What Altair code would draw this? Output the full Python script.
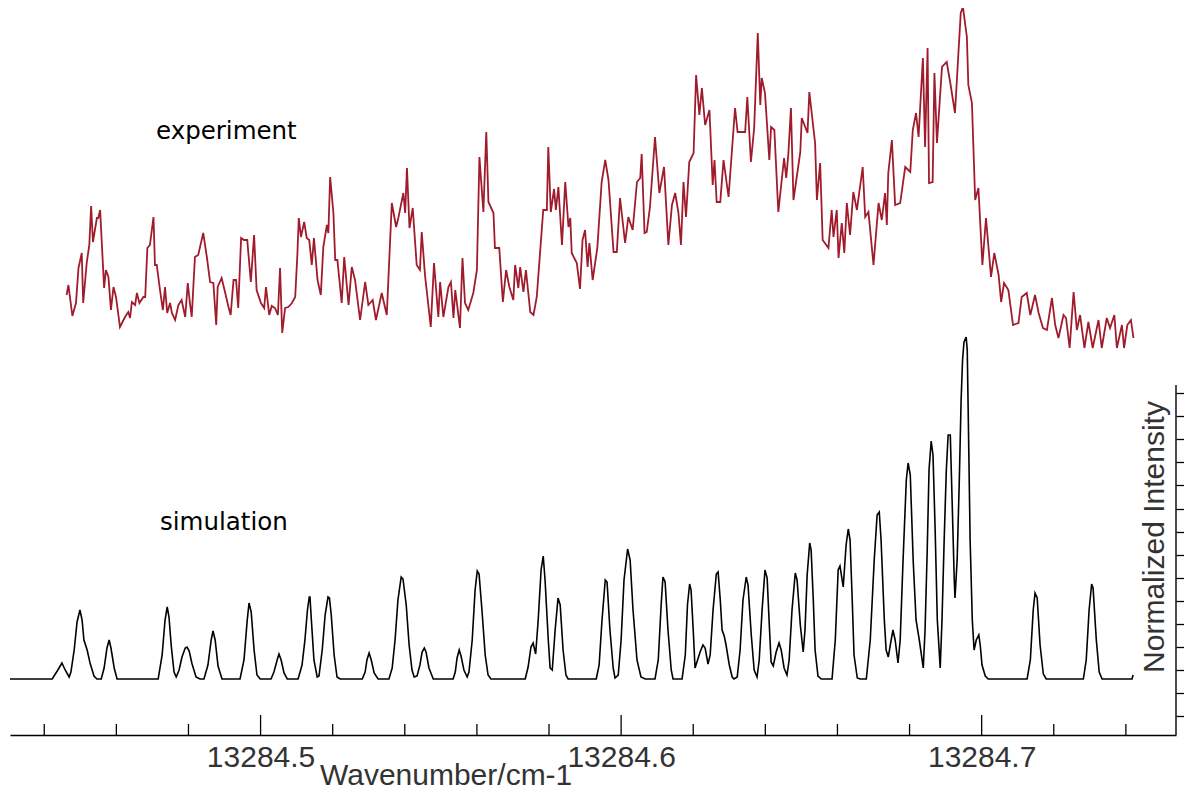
import altair as alt
import pandas as pd

NU_BASE = 13284.0

# ---- simulated spectrum (wavenumber fraction above 13284, intensity) ----
SIM_NU = [
    0.4305, 0.4422, 0.4436, 0.4449, 0.4458, 0.4469, 0.4474, 0.4483, 0.4491, 0.4499, 0.4505, 0.4510, 0.4519, 0.4527, 0.4538, 0.4546, 0.4558, 0.4566, 0.4574, 0.4580, 0.4585, 0.4594, 0.4602,
    0.4716, 0.4727, 0.4735, 0.4741, 0.4746, 0.4752, 0.4760, 0.4766, 0.4774, 0.4782, 0.4791, 0.4796, 0.4802, 0.4810, 0.4821, 0.4832, 0.4843, 0.4854, 0.4863, 0.4868, 0.4874, 0.4882, 0.4893,
    0.4943, 0.4954, 0.4963, 0.4968, 0.4974, 0.4982, 0.4990, 0.4999, 0.5029, 0.5037, 0.5046, 0.5051, 0.5057, 0.5065, 0.5074,
    0.5104, 0.5115, 0.5123, 0.5130, 0.5135, 0.5137, 0.5140, 0.5148, 0.5157, 0.5162, 0.5171, 0.5179, 0.5187, 0.5191, 0.5196, 0.5204, 0.5212, 0.5221,
    0.5282, 0.5290, 0.5295, 0.5301, 0.5307, 0.5315, 0.5326,
    0.5356, 0.5365, 0.5373, 0.5381, 0.5390, 0.5395, 0.5404, 0.5412, 0.5420, 0.5426, 0.5434, 0.5442, 0.5448, 0.5454, 0.5459, 0.5467, 0.5479,
    0.5534, 0.5540, 0.5545, 0.5551, 0.5556, 0.5564, 0.5573, 0.5578, 0.5587, 0.5595, 0.5601, 0.5606, 0.5614, 0.5623, 0.5631, 0.5639,
    0.5734, 0.5742, 0.5750, 0.5756, 0.5763, 0.5770, 0.5778, 0.5784, 0.5789, 0.5798, 0.5803, 0.5809, 0.5817, 0.5825, 0.5831, 0.5839, 0.5847, 0.5853,
    0.5931, 0.5939, 0.5947, 0.5956, 0.5961, 0.5969, 0.5978, 0.5983, 0.5992, 0.6000, 0.6008, 0.6018, 0.6025, 0.6033, 0.6044, 0.6055, 0.6067,
    0.6094, 0.6103, 0.6111, 0.6116, 0.6122, 0.6130, 0.6139, 0.6144,
    0.6169, 0.6178, 0.6184, 0.6190, 0.6194, 0.6200, 0.6205, 0.6219, 0.6227, 0.6233, 0.6241, 0.6247, 0.6255, 0.6264, 0.6269, 0.6275, 0.6280, 0.6286, 0.6291, 0.6300, 0.6308, 0.6313,
    0.6322, 0.6330, 0.6338, 0.6347, 0.6352, 0.6361, 0.6369, 0.6377, 0.6383, 0.6391, 0.6399, 0.6405, 0.6411, 0.6416, 0.6422, 0.6430, 0.6438, 0.6444, 0.6452, 0.6460,
    0.6466, 0.6474, 0.6483, 0.6488, 0.6497, 0.6505, 0.6510, 0.6516, 0.6523, 0.6527, 0.6533, 0.6538, 0.6546, 0.6555,
    0.6585, 0.6594, 0.6602, 0.6607, 0.6616, 0.6624, 0.6630, 0.6635, 0.6641, 0.6646, 0.6655, 0.6663,
    0.6680, 0.6691, 0.6702, 0.6710, 0.6716, 0.6721, 0.6730, 0.6735, 0.6741, 0.6749, 0.6754, 0.6760, 0.6768, 0.6774, 0.6782, 0.6791, 0.6796, 0.6802, 0.6810, 0.6818, 0.6827, 0.6838,
    0.6843, 0.6849, 0.6854, 0.6860, 0.6865, 0.6871, 0.6877, 0.6885,
    0.6890, 0.6896, 0.6902, 0.6907, 0.6913, 0.6918, 0.6924, 0.6926, 0.6932, 0.6938, 0.6943, 0.6947, 0.6951, 0.6957, 0.6960, 0.6963, 0.6968, 0.6974, 0.6979, 0.6985, 0.6992, 0.6996, 0.7001, 0.7010, 0.7018,
    0.7126, 0.7135, 0.7143, 0.7148, 0.7154, 0.7162, 0.7171, 0.7179,
    0.7282, 0.7290, 0.7298, 0.7305, 0.7309, 0.7318, 0.7326, 0.7334,
    0.7417, 0.7420,
]
SIM_INT = [
    0, 0, 8, 16, 9, 2, 7, 29, 57, 69, 59, 39, 29, 16, 3, 0, 0, 11, 31, 39, 31, 11, 0,
    0, 24, 59, 72, 62, 34, 7, 2, 9, 22, 31, 32, 28, 15, 2, 0, 0, 14, 39, 48, 39, 13, 0,
    0, 19, 59, 76, 67, 29, 4, 0, 0, 7, 19, 25, 19, 6, 0,
    0, 14, 39, 69, 82, 82, 64, 19, 2, 3, 29, 64, 82, 81, 64, 24, 2, 0,
    0, 7, 19, 26, 19, 6, 0,
    0, 11, 39, 79, 102, 100, 74, 34, 9, 2, 3, 14, 27, 31, 27, 11, 0,
    0, 7, 21, 29, 23, 9, 2, 7, 39, 89, 108, 105, 69, 24, 4, 0,
    0, 12, 32, 36, 25, 59, 109, 123, 99, 39, 11, 9, 49, 81, 74, 29, 4, 0,
    0, 14, 59, 99, 97, 49, 11, 1, 4, 39, 99, 130, 119, 69, 19, 2, 0,
    0, 19, 74, 102, 97, 49, 9, 0,
    0, 24, 74, 95, 89, 49, 11, 27, 34, 31, 15, 24, 69, 105, 107, 79, 49, 43, 34, 14, 2, 0,
    2, 29, 79, 102, 94, 44, 9, 2, 19, 69, 109, 101, 54, 17, 13, 27, 36, 29, 11, 4,
    19, 69, 106, 99, 54, 27, 49, 104, 136, 129, 79, 29, 3, 0,
    0, 39, 109, 113, 92, 134, 150, 139, 79, 24, 1, 0,
    0, 39, 119, 164, 167, 139, 59, 29, 22, 39, 49, 39, 16, 39, 119, 199, 216, 204, 119, 59, 39, 11,
    49, 129, 209, 238, 224, 149, 59, 11,
    59, 139, 209, 244, 244, 179, 99, 81, 119, 199, 279, 319, 337, 342, 329, 259, 139, 59, 29, 39, 44, 34, 14, 3, 0,
    0, 19, 69, 86, 81, 34, 5, 0,
    0, 19, 69, 95, 91, 39, 7, 0,
    0, 4,
]

# ---- experimental spectrum (offset trace, same intensity units) ----
EXP_NU = [
    0.4462, 0.4467, 0.4478, 0.4488, 0.4495, 0.4504, 0.4508, 0.4518, 0.4525, 0.4530, 0.4535, 0.4546, 0.4550, 0.4555, 0.4566, 0.4571, 0.4578, 0.4585, 0.4592, 0.4599, 0.4610, 0.4624, 0.4633, 0.4638, 0.4643, 0.4652, 0.4657, 0.4664, 0.4675, 0.4680,
    0.4686, 0.4693, 0.4703, 0.4707, 0.4712, 0.4721, 0.4729, 0.4735, 0.4741, 0.4749, 0.4754, 0.4763, 0.4772, 0.4781, 0.4791, 0.4798, 0.4804, 0.4809, 0.4818, 0.4827,
    0.4841, 0.4851, 0.4860, 0.4869, 0.4877, 0.4881, 0.4892, 0.4902, 0.4911, 0.4917, 0.4925, 0.4932, 0.4938, 0.4946, 0.4954, 0.4963, 0.4973, 0.4982, 0.4989, 0.5001,
    0.5010, 0.5015, 0.5024, 0.5031, 0.5040, 0.5048, 0.5054, 0.5060, 0.5068, 0.5077, 0.5087, 0.5096, 0.5102, 0.5106, 0.5112, 0.5121, 0.5128, 0.5135, 0.5142, 0.5148,
    0.5158, 0.5167, 0.5174, 0.5184, 0.5188, 0.5193, 0.5202, 0.5207, 0.5213, 0.5225, 0.5232, 0.5244, 0.5253, 0.5262, 0.5276, 0.5290, 0.5299, 0.5311, 0.5320, 0.5336, 0.5350,
    0.5364, 0.5376, 0.5382, 0.5396, 0.5401, 0.5406, 0.5413, 0.5422, 0.5433, 0.5442, 0.5447, 0.5456, 0.5472, 0.5481, 0.5493, 0.5498, 0.5507, 0.5521, 0.5528, 0.5535,
    0.5540, 0.5553, 0.5560, 0.5567, 0.5576, 0.5590, 0.5600, 0.5607, 0.5618, 0.5626, 0.5632, 0.5646, 0.5650, 0.5662, 0.5672, 0.5681, 0.5690, 0.5701, 0.5706, 0.5715,
    0.5720, 0.5729, 0.5736, 0.5748, 0.5757, 0.5766, 0.5784, 0.5794, 0.5798, 0.5805, 0.5814, 0.5819, 0.5826, 0.5836, 0.5845, 0.5854, 0.5859, 0.5863, 0.5877, 0.5886,
    0.5893, 0.5900, 0.5907, 0.5912, 0.5921, 0.5934, 0.5946, 0.5956, 0.5965, 0.5979, 0.5988, 0.5997, 0.6011, 0.6020, 0.6032, 0.6044, 0.6053, 0.6057, 0.6065, 0.6071,
    0.6080, 0.6094, 0.6106, 0.6119, 0.6131, 0.6141, 0.6150, 0.6159, 0.6166, 0.6173, 0.6180, 0.6189, 0.6201, 0.6208, 0.6217, 0.6224, 0.6233, 0.6245, 0.6254, 0.6259,
    0.6265, 0.6275, 0.6284, 0.6298, 0.6316, 0.6323, 0.6344, 0.6350, 0.6360, 0.6369, 0.6379, 0.6386, 0.6390, 0.6399, 0.6411, 0.6416, 0.6425, 0.6436, 0.6452, 0.6458,
    0.6464, 0.6471, 0.6478, 0.6497, 0.6501, 0.6517, 0.6522, 0.6538, 0.6543, 0.6552, 0.6559, 0.6575, 0.6584, 0.6589, 0.6598, 0.6603, 0.6612, 0.6619, 0.6626, 0.6635,
    0.6644, 0.6654, 0.6670, 0.6677, 0.6686, 0.6700, 0.6714, 0.6723, 0.6732, 0.6737, 0.6741, 0.6751, 0.6760, 0.6774, 0.6788, 0.6802, 0.6809, 0.6818, 0.6825, 0.6837,
    0.6843, 0.6850, 0.6854, 0.6864, 0.6869, 0.6876, 0.6890, 0.6903, 0.6913, 0.6926, 0.6936, 0.6942, 0.6948, 0.6959, 0.6963, 0.6973, 0.6982, 0.6991, 0.7002, 0.7012,
    0.7026, 0.7035, 0.7047, 0.7054, 0.7062, 0.7074, 0.7087, 0.7102, 0.7111, 0.7125, 0.7135, 0.7148, 0.7158, 0.7170, 0.7181, 0.7195, 0.7204, 0.7213, 0.7227, 0.7234,
    0.7244, 0.7255, 0.7264, 0.7273, 0.7285, 0.7296, 0.7308, 0.7324, 0.7333, 0.7347, 0.7356, 0.7368, 0.7375, 0.7389, 0.7395, 0.7404, 0.7414, 0.7421,
]
EXP_INT = [
    384, 394, 363, 376, 411, 426, 376, 417, 434, 473, 437, 461, 461, 469, 391, 409, 402, 369, 392, 382, 352, 362, 367, 361, 377, 374, 386, 376, 382, 382,
    431, 434, 462, 414, 414, 389, 369, 392, 366, 376, 366, 359, 374, 379, 362, 396, 376, 362, 422, 424,
    446, 422, 397, 396, 354, 392, 401, 386, 372, 364, 399, 399, 371, 441, 439, 439, 397, 444, 389, 376,
    371, 392, 364, 373, 371, 364, 411, 346, 371, 372, 376, 382, 424, 461, 442, 457, 441, 439, 414, 441,
    399, 384, 432, 454, 446, 502, 466, 419, 419, 376, 422, 374, 412, 399, 359, 397, 374, 379, 359, 386, 364,
    476, 452, 461, 486, 466, 511, 451, 471, 414, 409, 447, 404, 352, 416, 362, 397, 362, 392, 397, 361,
    389, 351, 421, 376, 369, 386, 409, 522, 467, 547, 477, 466, 431, 431, 377, 409, 392, 379, 414, 391,
    412, 387, 409, 367, 364, 382, 469, 469, 532, 467, 490, 469, 492, 434, 497, 452, 461, 426, 416, 390,
    439, 449, 412, 436, 399, 431, 497, 519, 499, 427, 427, 481, 436, 462, 449, 497, 501, 525, 446, 447,
    472, 542, 486, 512, 434, 474, 486, 466, 434, 497, 462, 517, 526, 604, 564, 591, 554, 569, 494, 519,
    477, 477, 519, 482, 571, 547, 547, 582, 517, 551, 646, 574, 601, 586, 519, 552, 549, 467, 521, 501,
    526, 571, 479, 527, 561, 546, 587, 536, 479, 516, 439, 431, 469, 442, 469, 421, 456, 426, 476, 444,
    487, 469, 512, 462, 467, 414, 476, 459, 486, 454, 506, 539, 474, 476, 512, 507, 549, 566, 542, 621,
    532, 631, 496, 497, 606, 536, 612, 617, 596, 566, 629, 666, 672, 642, 594, 576, 479, 491, 414, 461,
    402, 426, 404, 377, 396, 389, 354, 356, 382, 386, 364, 384, 366, 351, 349, 381, 354, 341, 364, 361,
    331, 387, 349, 364, 331, 357, 331, 359, 331, 361, 351, 364, 331, 354, 331, 354, 359, 341,
]

MAJOR_TICKS = [13284.5, 13284.6, 13284.7]
MINOR_TICKS = [13284.44, 13284.46, 13284.48, 13284.52, 13284.54, 13284.56, 13284.58,
               13284.62, 13284.64, 13284.66, 13284.68, 13284.72, 13284.74]
RIGHT_TICKS = [286, 262.9, 239.8, 216.7, 193.6, 170.5, 147.4, 124.3, 101.2, 78.1,
               55.0, 31.9, 8.8, -14.3, -37.4]
RIGHT_AXIS_TOP = 294

SERIES_LABELS = ["experiment", "simulation"]
X_TITLE = ["Wavenumber/cm-1"]
Y_TITLE = ["Normalized Intensity"]

X_DOMAIN = [13284.4305, 13284.7539]
Y_DOMAIN = [-56, 671]
W, H = 1166, 727

sim_df = pd.DataFrame([{"nu": NU_BASE + a, "intensity": b} for a, b in zip(SIM_NU, SIM_INT)])
exp_df = pd.DataFrame([{"nu": NU_BASE + a, "intensity": b} for a, b in zip(EXP_NU, EXP_INT)])
minor_df = pd.DataFrame({"nu": MINOR_TICKS})
major_df = pd.DataFrame({"nu": MAJOR_TICKS})

xs = alt.Scale(domain=X_DOMAIN, nice=False, zero=False)
ys = alt.Scale(domain=Y_DOMAIN, nice=False, zero=False)

x_axis = alt.Axis(values=MAJOR_TICKS, format=".1f", ticks=False, grid=False,
                  domain=True, domainColor="black", domainWidth=1.6,
                  labelFont="Liberation Sans", labelFontSize=30, labelColor="#333333",
                  labelPadding=7, labelFlush=False, title=None)
y_axis = alt.Axis(orient="right", values=RIGHT_TICKS, labels=False, ticks=True,
                  tickSize=11, tickColor="black", tickWidth=1.3, domain=False,
                  grid=False, title=None)

def X(field=None, datum=None):
    if datum is not None:
        return alt.X(datum=datum, scale=xs, axis=x_axis)
    return alt.X(field, type="quantitative", scale=xs, axis=x_axis)

def Y(field=None, datum=None):
    if datum is not None:
        return alt.Y(datum=datum, scale=ys, axis=y_axis)
    return alt.Y(field, type="quantitative", scale=ys, axis=y_axis)

exp_line = alt.Chart(exp_df).mark_line(color="#a01c2c", strokeWidth=1.8).encode(
    x=X("nu"), y=Y("intensity"))
sim_line = alt.Chart(sim_df).mark_line(color="black", strokeWidth=1.6).encode(
    x=X("nu"), y=Y("intensity"))

minor_ticks = alt.Chart(minor_df).mark_rule(color="black", strokeWidth=1.3).encode(
    x=X("nu"), y=Y(datum=Y_DOMAIN[0]), y2=alt.Y2(datum=Y_DOMAIN[0] + 11))
major_ticks = alt.Chart(major_df).mark_rule(color="black", strokeWidth=1.3).encode(
    x=X("nu"), y=Y(datum=Y_DOMAIN[0]), y2=alt.Y2(datum=Y_DOMAIN[0] + 20))
right_line = alt.Chart(major_df.head(1)).mark_rule(color="black", strokeWidth=1.4).encode(
    x=X(datum=X_DOMAIN[1]), y=Y(datum=RIGHT_AXIS_TOP), y2=alt.Y2(datum=Y_DOMAIN[0]))

exp_text = alt.Chart(pd.DataFrame({"t": [SERIES_LABELS[0]]})).mark_text(
    font="DejaVu Sans", fontSize=24.5, align="left", baseline="alphabetic", color="black"
).encode(x=alt.value(146), y=alt.value(131), text="t:N")
sim_text = alt.Chart(pd.DataFrame({"t": [SERIES_LABELS[1]]})).mark_text(
    font="DejaVu Sans", fontSize=24.5, align="left", baseline="alphabetic", color="black"
).encode(x=alt.value(150), y=alt.value(522), text="t:N")
x_title = alt.Chart(pd.DataFrame({"t": X_TITLE})).mark_text(
    font="Liberation Sans", fontSize=30, align="left", baseline="alphabetic", color="#333333"
).encode(x=alt.value(310), y=alt.value(777), text="t:N")
y_title = alt.Chart(pd.DataFrame({"t": Y_TITLE})).mark_text(
    font="Liberation Sans", fontSize=30, align="center", baseline="middle", color="#333333",
    angle=270
).encode(x=alt.value(1145), y=alt.value(529), text="t:N")

chart = alt.layer(
    exp_line, sim_line, minor_ticks, major_ticks, right_line,
    exp_text, sim_text, x_title, y_title
).properties(
    width=W, height=H,
    autosize=alt.AutoSizeParams(type="none"),
    padding={"left": 2, "top": 0, "right": 8, "bottom": 56},
    background="white",
).configure_view(stroke=None)

chart.save("out.html", embed_options={"renderer": "svg", "actions": False})
